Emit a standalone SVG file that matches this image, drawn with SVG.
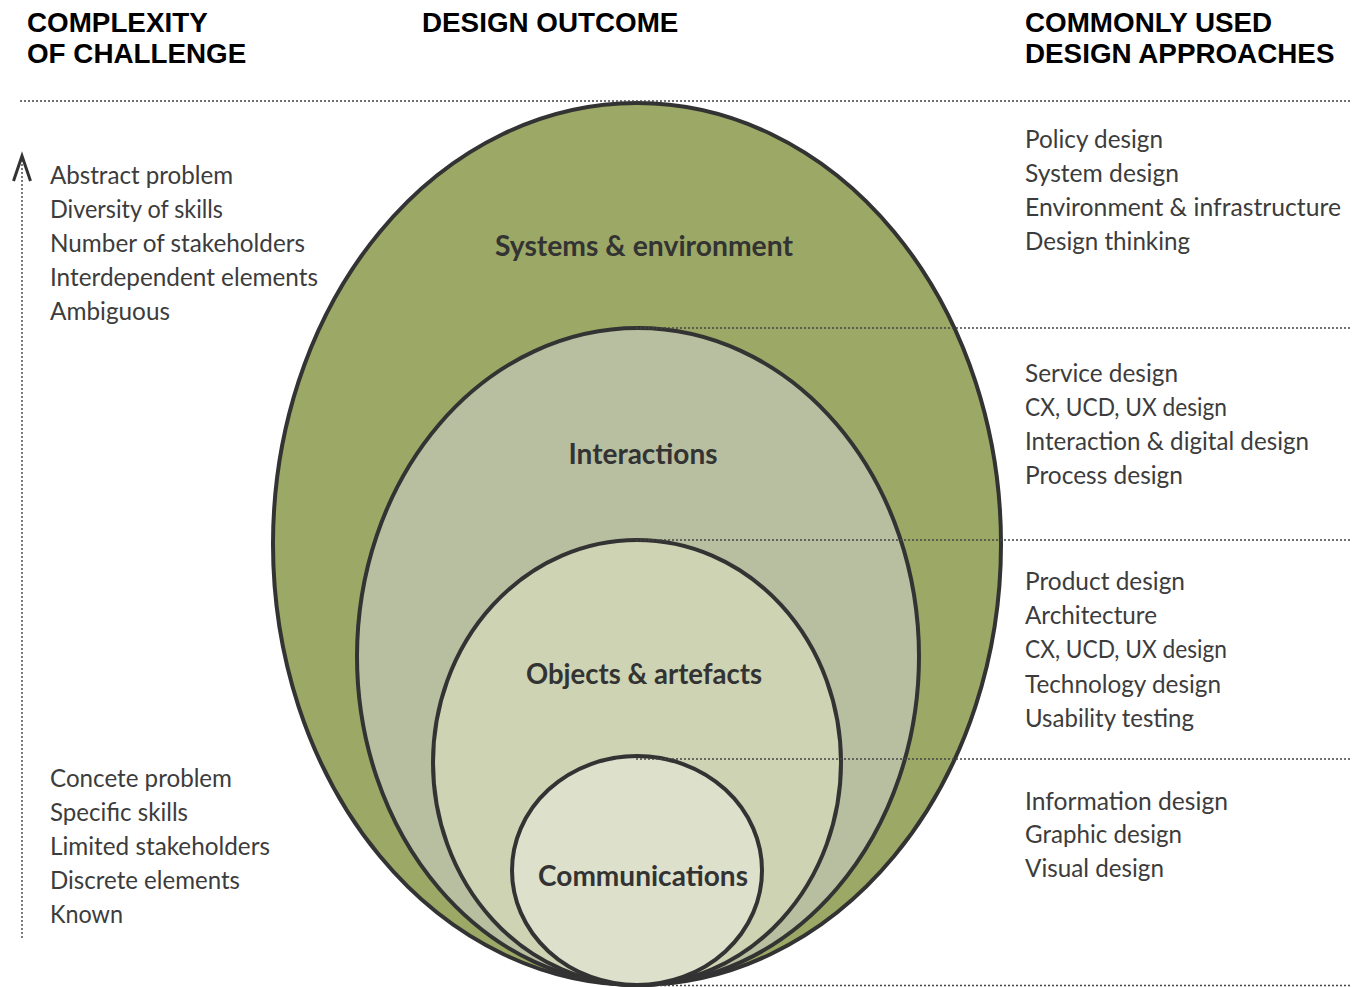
<svg xmlns="http://www.w3.org/2000/svg" width="1359" height="987" viewBox="0 0 1359 987">
<style>
.hdr{font-family:"Liberation Sans",Arial,sans-serif;font-weight:bold;font-size:27.8px;fill:#000}
.body{font-family:Lato,"Open Sans",sans-serif;font-weight:400;font-size:25px;fill:#3c3c3c}
.lbl{font-family:Lato,"Open Sans",sans-serif;font-weight:bold;font-size:29px;fill:#333;text-anchor:middle}
.shape{stroke:#333;stroke-width:4}
.dot{stroke:#444;stroke-width:1.4;stroke-dasharray:2 2;fill:none}
</style>
<rect width="1359" height="987" fill="#fff"/>
<g id="headers">
<text class="hdr" x="27" y="32">COMPLEXITY</text>
<text class="hdr" x="27" y="63">OF CHALLENGE</text>
<text class="hdr" x="422" y="32">DESIGN OUTCOME</text>
<text class="hdr" x="1025" y="32">COMMONLY USED</text>
<text class="hdr" x="1025" y="63">DESIGN APPROACHES</text>
</g>
<g id="systems">
<ellipse class="shape" cx="637" cy="544" rx="364" ry="441" fill="#9ca865"/>
<text class="lbl" x="644" y="256" textLength="298" lengthAdjust="spacingAndGlyphs">Systems &amp; environment</text>
</g>
<g id="interactions">
<ellipse class="shape" cx="638" cy="656.5" rx="281" ry="328.5" fill="#b8bfa0"/>
<text class="lbl" x="643" y="464" textLength="149" lengthAdjust="spacingAndGlyphs">Interactions</text>
</g>
<g id="objects">
<ellipse class="shape" cx="637" cy="762.5" rx="204" ry="222.5" fill="#cdd3b3"/>
<text class="lbl" x="644" y="684" textLength="236" lengthAdjust="spacingAndGlyphs">Objects &amp; artefacts</text>
</g>
<g id="communications">
<ellipse class="shape" cx="637" cy="870.5" rx="125" ry="114.5" fill="#dde0cb"/>
<text class="lbl" x="643" y="886" textLength="210" lengthAdjust="spacingAndGlyphs">Communications</text>
</g>
<g id="connectors">
<line class="dot" x1="20" y1="101" x2="1352" y2="101"/>
<line class="dot" x1="636" y1="328" x2="1352" y2="328"/>
<line class="dot" x1="636" y1="540" x2="1352" y2="540"/>
<line class="dot" x1="636" y1="759" x2="1352" y2="759"/>
<line class="dot" x1="660" y1="985.5" x2="1352" y2="985.5"/>
<line class="dot" x1="22" y1="160" x2="22" y2="938" stroke-width="2"/>
<polyline points="13.5,181 22,156 30.5,181" fill="none" stroke="#333" stroke-width="3" stroke-linejoin="miter"/>
</g>
<g id="complexity-high">
<text class="body" x="50" y="184" textLength="183" lengthAdjust="spacingAndGlyphs">Abstract problem</text>
<text class="body" x="50" y="218" textLength="173" lengthAdjust="spacingAndGlyphs">Diversity of skills</text>
<text class="body" x="50" y="252" textLength="255" lengthAdjust="spacingAndGlyphs">Number of stakeholders</text>
<text class="body" x="50" y="286" textLength="268" lengthAdjust="spacingAndGlyphs">Interdependent elements</text>
<text class="body" x="50" y="320" textLength="120" lengthAdjust="spacingAndGlyphs">Ambiguous</text>
</g>
<g id="complexity-low">
<text class="body" x="50" y="787" textLength="182" lengthAdjust="spacingAndGlyphs">Concete problem</text>
<text class="body" x="50" y="821" textLength="138" lengthAdjust="spacingAndGlyphs">Specific skills</text>
<text class="body" x="50" y="855" textLength="220" lengthAdjust="spacingAndGlyphs">Limited stakeholders</text>
<text class="body" x="50" y="889" textLength="190" lengthAdjust="spacingAndGlyphs">Discrete elements</text>
<text class="body" x="50" y="923" textLength="73" lengthAdjust="spacingAndGlyphs">Known</text>
</g>
<g id="approaches-systems">
<text class="body" x="1025" y="148" textLength="138" lengthAdjust="spacingAndGlyphs">Policy design</text>
<text class="body" x="1025" y="182" textLength="154" lengthAdjust="spacingAndGlyphs">System design</text>
<text class="body" x="1025" y="216" textLength="316" lengthAdjust="spacingAndGlyphs">Environment &amp; infrastructure</text>
<text class="body" x="1025" y="250" textLength="165" lengthAdjust="spacingAndGlyphs">Design thinking</text>
</g>
<g id="approaches-interactions">
<text class="body" x="1025" y="382" textLength="153" lengthAdjust="spacingAndGlyphs">Service design</text>
<text class="body" x="1025" y="416" textLength="202" lengthAdjust="spacingAndGlyphs">CX, UCD, UX design</text>
<text class="body" x="1025" y="450" textLength="284" lengthAdjust="spacingAndGlyphs">Interaction &amp; digital design</text>
<text class="body" x="1025" y="484" textLength="158" lengthAdjust="spacingAndGlyphs">Process design</text>
</g>
<g id="approaches-objects">
<text class="body" x="1025" y="590" textLength="160" lengthAdjust="spacingAndGlyphs">Product design</text>
<text class="body" x="1025" y="624" textLength="132" lengthAdjust="spacingAndGlyphs">Architecture</text>
<text class="body" x="1025" y="658" textLength="202" lengthAdjust="spacingAndGlyphs">CX, UCD, UX design</text>
<text class="body" x="1025" y="693" textLength="196" lengthAdjust="spacingAndGlyphs">Technology design</text>
<text class="body" x="1025" y="727" textLength="169" lengthAdjust="spacingAndGlyphs">Usability testing</text>
</g>
<g id="approaches-communications">
<text class="body" x="1025" y="810" textLength="203" lengthAdjust="spacingAndGlyphs">Information design</text>
<text class="body" x="1025" y="843" textLength="157" lengthAdjust="spacingAndGlyphs">Graphic design</text>
<text class="body" x="1025" y="877" textLength="139" lengthAdjust="spacingAndGlyphs">Visual design</text>
</g>
</svg>
